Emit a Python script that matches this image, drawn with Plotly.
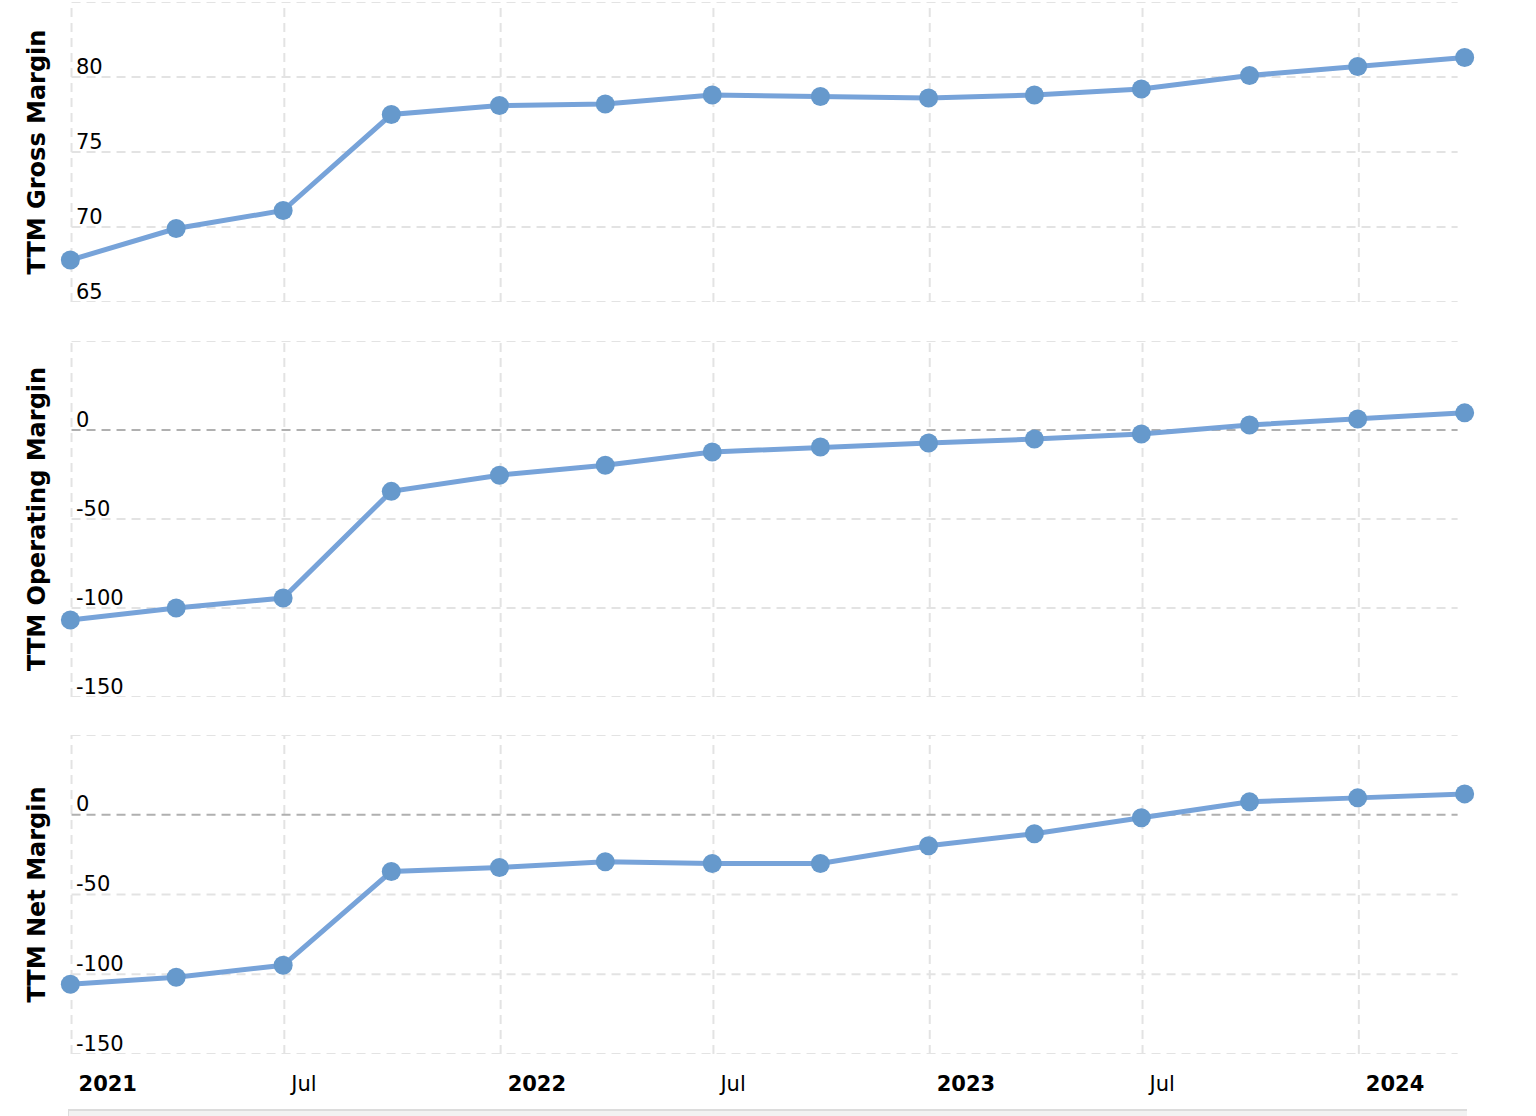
import plotly.graph_objects as go
from plotly.subplots import make_subplots

dates = ["2020-12-31", "2021-03-31", "2021-06-30", "2021-09-30", "2021-12-31",
         "2022-03-31", "2022-06-30", "2022-09-30", "2022-12-31", "2023-03-31",
         "2023-06-30", "2023-09-30", "2023-12-31", "2024-03-31"]
gross_margin = [67.8, 69.9, 71.1, 77.5, 78.1, 78.2, 78.8, 78.7, 78.6, 78.8, 79.2, 80.1, 80.7, 81.3]
operating_margin = [-106.8, -100.0, -94.4, -34.5, -25.4, -19.8, -12.4, -9.6, -7.3, -5.1, -2.3, 2.8, 6.2, 9.6]
net_margin = [-106.3, -101.9, -94.4, -35.6, -33.1, -29.4, -30.6, -30.6, -19.4, -11.9, -1.9, 8.1, 10.6, 13.1]

x_tickvals = ["2021-01-01", "2021-07-01", "2022-01-01", "2022-07-01", "2023-01-01", "2023-07-01", "2024-01-01"]
x_ticktext = ["<b>2021</b>", "Jul", "<b>2022</b>", "Jul", "<b>2023</b>", "Jul", "<b>2024</b>"]

gross_ticks = [65, 70, 75, 80, 85]
gross_ticktext = ["65", "70", "75", "80", ""]
margin_ticks = [-150, -100, -50, 0, 50]
margin_ticktext = ["-150", "-100", "-50", "0", ""]

titles = ["TTM Gross Margin", "TTM Operating Margin", "TTM Net Margin"]

# visible grid extent (x) and full axis range
grid_start, grid_end = "2021-01-01", "2024-03-25"
x_range = ["2020-12-29", "2024-04-02"]
nav_range = ["2020-12-29", "2024-04-04"]

FONT = "DejaVu Sans"
LINE_COLOR = "#77a3d9"
MARKER_COLOR = "#6699cc"
GRID = "#e3e3e3"
DASH = "9px,6px"

fig = make_subplots(rows=3, cols=1, shared_xaxes=True, vertical_spacing=0.03)

series = [gross_margin, operating_margin, net_margin]
for i, s in enumerate(series):
    fig.add_trace(go.Scatter(
        x=dates, y=s, mode="lines+markers",
        line=dict(color=LINE_COLOR, width=5),
        marker=dict(color=MARKER_COLOR, size=19),
        cliponaxis=False, showlegend=False, name=titles[i]),
        row=i + 1, col=1)

fig.update_layout(
    yaxis=dict(domain=[0.7148, 1.0]),
    yaxis2=dict(domain=[0.3394, 0.6778]),
    yaxis3=dict(domain=[0.0, 0.3032]),
)

fig.update_xaxes(
    range=x_range,
    tickvals=x_tickvals, ticktext=x_ticktext,
    showgrid=False, zeroline=False, showline=False, ticks="",
    automargin=False,
    tickfont=dict(family=FONT, size=21, color="#000000"),
)
fig.update_xaxes(ticklabelposition="outside right", ticklabelstandoff=15,
                 ticklabelshift=7, ticklabeloverflow="allow", row=3, col=1)

axis_ids = ["", "2", "3"]
ranges = [[65, 85], [-150, 50], [-150, 50]]
ticks_all = [(gross_ticks, gross_ticktext), (margin_ticks, margin_ticktext), (margin_ticks, margin_ticktext)]

for i in range(3):
    tv, tt = ticks_all[i]
    fig.update_yaxes(
        range=ranges[i], tickvals=tv, ticktext=tt,
        ticklabelposition="inside top", ticklabelstandoff=5, ticklabelshift=4,
        ticklabeloverflow="allow",
        showgrid=False, zeroline=False, showline=False, ticks="",
        automargin=False,
        tickfont=dict(family=FONT, size=21, color="#000000"),
        title=dict(text="<b>" + titles[i] + "</b>", standoff=23,
                   font=dict(family=FONT, size=24, color="#000000")),
        row=i + 1, col=1)

    ax = axis_ids[i]
    for v in tv:
        color = "#b0b0b0" if v == 0 else GRID
        fig.add_shape(type="line", xref="x" + ax, yref="y" + ax,
                      x0=grid_start, x1=grid_end, y0=v, y1=v, layer="below",
                      line=dict(color=color, width=2, dash=DASH))
    for xv in [grid_start] + x_tickvals[1:]:
        fig.add_shape(type="line", xref="x" + ax, yref="y" + ax + " domain",
                      x0=xv, x1=xv, y0=0, y1=1, layer="below",
                      line=dict(color=GRID, width=2, dash=DASH))

# navigator bar at bottom
fig.add_shape(type="rect", xref="x3", yref="paper",
              x0=nav_range[0], x1=nav_range[1], y0=-0.0532, y1=-0.075,
              fillcolor="#f2f2f2", line=dict(color="#dcdcdc", width=2), layer="below")

fig.update_layout(
    width=1536, height=1116,
    margin=dict(l=68, r=69, t=2, b=62, autoexpand=False),
    plot_bgcolor="#ffffff", paper_bgcolor="#ffffff",
    font=dict(family=FONT, color="#000000"),
)

fig.write_html("out.html", config={"displayModeBar": False},
               post_script="document.body.style.margin='0px';")
